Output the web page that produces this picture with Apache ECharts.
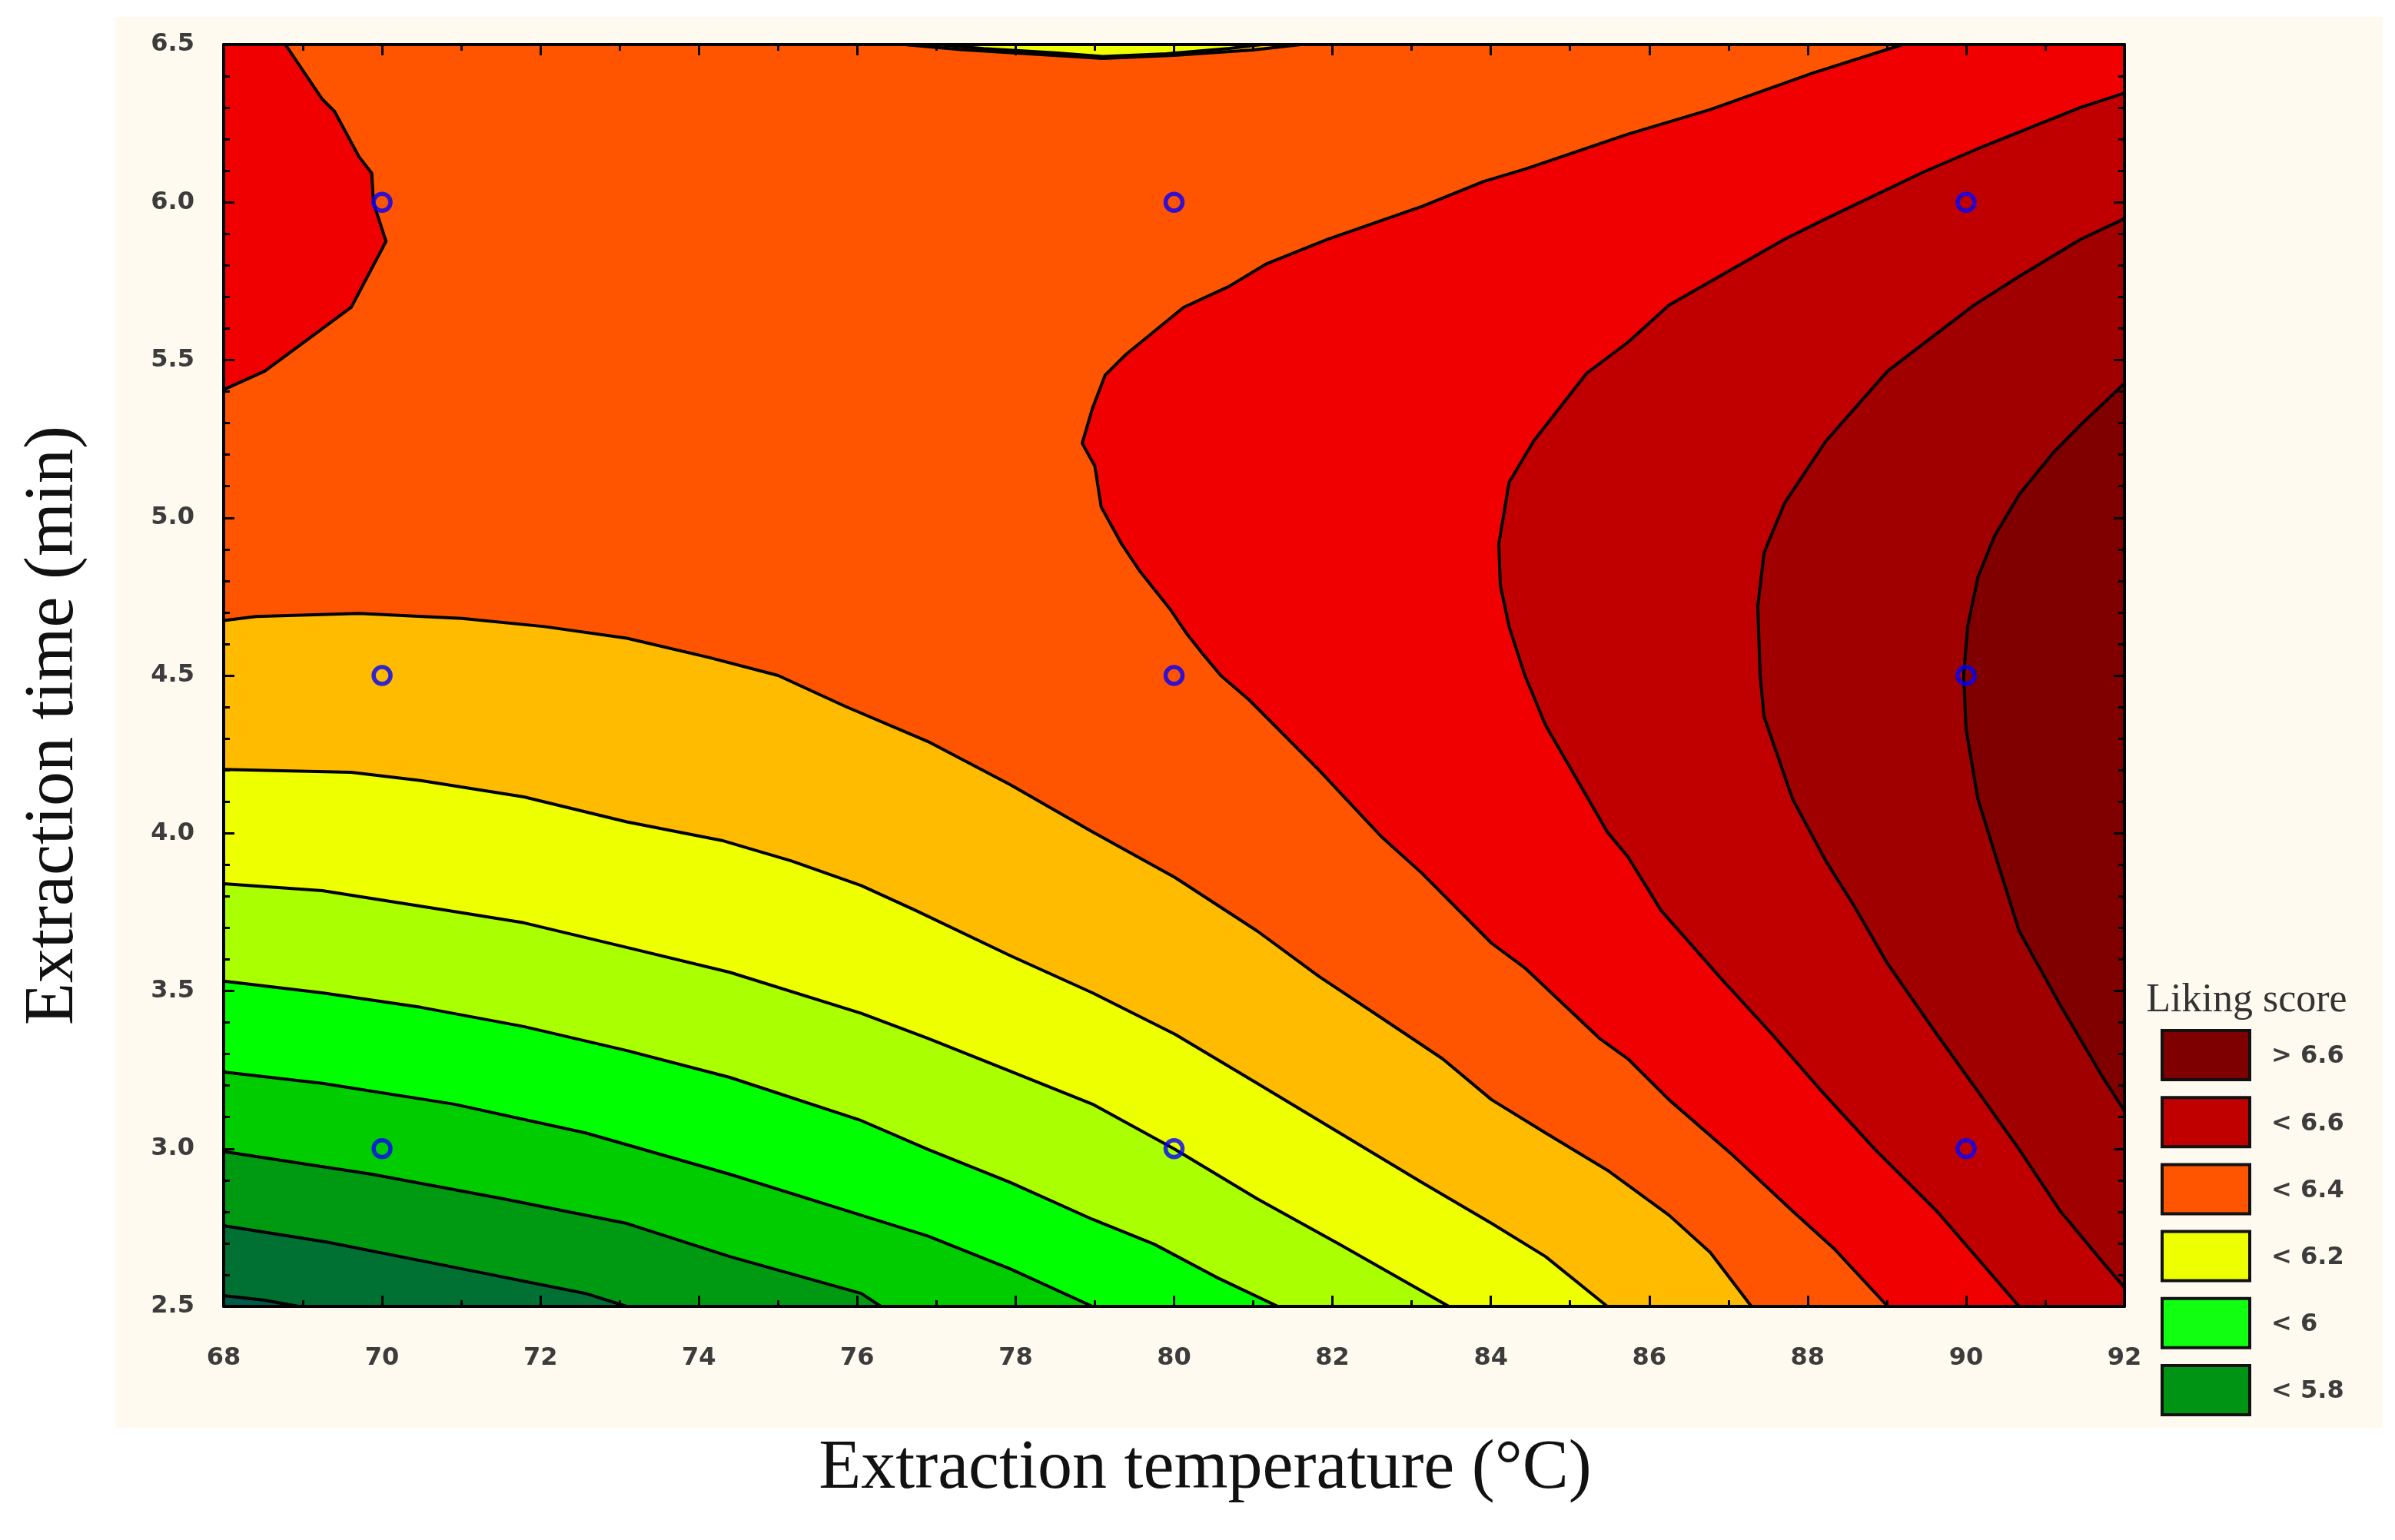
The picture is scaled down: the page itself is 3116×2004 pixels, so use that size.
<!DOCTYPE html>
<html>
<head>
<meta charset="utf-8">
<script src="https://cdn.jsdelivr.net/npm/echarts/dist/echarts.min.js"></script>
<style>
html, body { margin: 0; padding: 0; background: #fff; }
#chart { width: 3116px; height: 2004px; }
</style>
</head>
<body>
<div id="chart"></div>
<script>
// axis ranges
var tempMin = 68, tempMax = 92;
var timeMin = 2.5, timeMax = 6.5;

// design points
var designTemps = [70, 70, 70, 80, 80, 80, 90, 90, 90];
var designTimes = [3.0, 4.5, 6.0, 3.0, 4.5, 6.0, 3.0, 4.5, 6.0];

// contour lines, [temperature, time]
var c56 = [[68, 2.534], [68.5, 2.52], [68.95, 2.5]];
var c57 = [[68, 2.756], [69.3, 2.704], [71.01, 2.619], [72.57, 2.541], [73.09, 2.5]];
var c58 = [[68, 2.991], [69.87, 2.919], [71.53, 2.841], [73.09, 2.763], [74.39, 2.658], [76.05, 2.541], [76.3, 2.5]];
var c59 = [[68, 3.243], [69.245, 3.207], [70.91, 3.141], [72.57, 3.05], [74.39, 2.919], [76.05, 2.789],
  [76.89, 2.723], [77.93, 2.619], [78.97, 2.5]];
var c60 = [[68, 3.531], [69.245, 3.494], [70.49, 3.448], [71.79, 3.387], [73.09, 3.311], [74.39, 3.226],
  [76.05, 3.089], [76.89, 2.998], [77.93, 2.893], [78.97, 2.776], [79.75, 2.697], [80.53, 2.593], [81.31, 2.5]];
var c61 = [[68, 3.84], [69.245, 3.818], [70.75, 3.758], [71.79, 3.716], [73.09, 3.638], [74.39, 3.559],
  [76.05, 3.429], [76.89, 3.35], [77.93, 3.246], [78.97, 3.141], [80.01, 2.998], [81.05, 2.841],
  [82.09, 2.697], [83.47, 2.5]];
var c62 = [[68, 4.202], [69.61, 4.193], [70.49, 4.167], [71.79, 4.115], [73.09, 4.036], [74.29, 3.977],
  [75.17, 3.912], [76.05, 3.834], [76.74, 3.755], [77.93, 3.612], [78.97, 3.494], [80.01, 3.363],
  [81.05, 3.207], [82.09, 3.05], [83.13, 2.893], [84.01, 2.763], [84.69, 2.658], [85.47, 2.5]];
var c63 = [[68, 4.674], [68.41, 4.687], [69.71, 4.697], [71.01, 4.681], [72.05, 4.655], [73.09, 4.618],
  [74.13, 4.557], [75.0, 4.5], [75.85, 4.402], [76.89, 4.291], [77.93, 4.154], [78.97, 4.004],
  [80.01, 3.86], [81.05, 3.69], [81.83, 3.546], [82.61, 3.416], [83.39, 3.285], [84.01, 3.155],
  [84.69, 3.05], [85.47, 2.932], [86.25, 2.789], [86.77, 2.671], [87.29, 2.5]];
var c63top = [[76.6, 6.5], [77.3, 6.484], [78.2, 6.47], [79.1, 6.456], [80.0, 6.466], [81.0, 6.483], [81.6, 6.5]];
var c62top = [[77.0, 6.5], [77.6, 6.487], [78.5, 6.474], [79.1, 6.462], [79.9, 6.471], [80.7, 6.488], [81.1, 6.5]];
var c64left = [[68.78, 6.5], [69.245, 6.327], [69.4, 6.288], [69.71, 6.144], [69.87, 6.092], [69.89, 6.0],
  [70.05, 5.876], [69.61, 5.667], [69.19, 5.589], [68.52, 5.465], [68, 5.406]];
var c64right = [[89.2, 6.5], [88.07, 6.41], [86.77, 6.294], [85.73, 6.216], [84.43, 6.105], [83.91, 6.066],
  [83.13, 5.987], [81.94, 5.883], [81.16, 5.804], [80.69, 5.733], [80.12, 5.667], [79.39, 5.517],
  [79.13, 5.452], [78.97, 5.347], [78.84, 5.236], [79.0, 5.164], [79.08, 5.034], [79.34, 4.916],
  [79.57, 4.83], [79.96, 4.707], [80.17, 4.629], [80.38, 4.563], [80.59, 4.5], [80.95, 4.422],
  [81.83, 4.2], [82.61, 3.991], [83.13, 3.873], [84.01, 3.651], [84.43, 3.573], [85.37, 3.35],
  [85.73, 3.285], [86.25, 3.155], [87.03, 2.985], [87.81, 2.802], [88.33, 2.684], [89.01, 2.5]];
var c65 = [[92, 6.346], [91.45, 6.301], [90.15, 6.17], [89.48, 6.098], [88.23, 5.948], [87.71, 5.883],
  [86.25, 5.674], [85.73, 5.556], [85.21, 5.458], [84.54, 5.243], [84.23, 5.112], [84.1, 4.916],
  [84.12, 4.785], [84.23, 4.655], [84.43, 4.5], [84.69, 4.343], [85.47, 4.004], [85.73, 3.925],
  [86.15, 3.755], [86.93, 3.533], [87.55, 3.363], [88.18, 3.181], [88.85, 2.998], [89.63, 2.802], [90.67, 2.5]];
var c66 = [[92, 5.948], [91.45, 5.883], [90.67, 5.765], [90.1, 5.674], [89.01, 5.465], [88.23, 5.243],
  [87.71, 5.047], [87.45, 4.89], [87.37, 4.72], [87.4, 4.5], [87.45, 4.369], [87.81, 4.108],
  [88.23, 3.912], [88.59, 3.768], [89.01, 3.586], [89.63, 3.363], [90.15, 3.181], [90.67, 2.998],
  [91.19, 2.802], [91.71, 2.645], [92, 2.56]];
var c67 = [[92, 5.426], [91.45, 5.295], [91.09, 5.203], [90.67, 5.073], [90.36, 4.942], [90.15, 4.812],
  [90.02, 4.655], [89.97, 4.5], [90.0, 4.33], [90.15, 4.108], [90.47, 3.85], [90.67, 3.69],
  [91.19, 3.455], [91.71, 3.233], [92, 3.12]];

// legend
var legendLabels = ['> 6.6', '< 6.6', '< 6.4', '< 6.2', '< 6', '< 5.8'];
var legendColors = ['#7e0000', '#c00000', '#ff5500', '#eeff00', '#11ff11', '#009415'];

// band colours, high to low
var col = {
  b67: '#800000', b66: '#a00000', b65: '#c00000', b64: '#f00000', b63: '#ff5500',
  b62: '#ffbb00', b61: '#eeff00', b60: '#aaff00', b59: '#00ff00', b58: '#00cc00',
  b57: '#009912', b56: '#007033', b55: '#005c4a'
};

function band(line, corners, color) {
  return { points: line.concat(corners), color: color };
}
var BL = [tempMin, timeMin], BR = [tempMax, timeMin], TR = [tempMax, timeMax], TL = [tempMin, timeMax];

var regions = [
  band(c64right, [BR, TR], col.b64),
  band(c64left, [TL], col.b64),
  band(c65, [BR], col.b65),
  band(c66, [], col.b66),
  band(c67, [], col.b67),
  band(c63, [BL], col.b62),
  band(c62, [BL], col.b61),
  band(c61, [BL], col.b60),
  band(c60, [BL], col.b59),
  band(c59, [BL], col.b58),
  band(c58, [BL], col.b57),
  band(c57, [BL], col.b56),
  band(c56, [BL], col.b55),
  band(c63top, [], col.b62),
  band(c62top, [], col.b61)
];
var contourLines = [c56, c57, c58, c59, c60, c61, c62, c63, c63top, c62top, c64left, c64right, c65, c66, c67];

var chart = echarts.init(document.getElementById('chart'));

var tickFont = { fontFamily: 'DejaVu Sans', fontWeight: 'bold', fontSize: 32, color: '#3c3c3c' };

function makeX(pos, labels) {
  return {
    type: 'value', min: tempMin, max: tempMax, interval: 2, position: pos, z: 10,
    axisLine: { show: true, onZero: false, lineStyle: { color: '#000', width: 4 } },
    axisTick: { show: true, inside: true, length: 14, lineStyle: { color: '#000', width: 3 } },
    minorTick: { show: true, splitNumber: 2, length: 8, lineStyle: { color: '#000', width: 3 } },
    axisLabel: Object.assign({ show: labels, margin: 52 }, tickFont),
    splitLine: { show: false }
  };
}
function makeY(pos, labels) {
  return {
    type: 'value', min: timeMin, max: timeMax, interval: 0.5, position: pos, z: 10,
    axisLine: { show: true, onZero: false, lineStyle: { color: '#000', width: 4 } },
    axisTick: { show: true, inside: true, length: 14, lineStyle: { color: '#000', width: 3 } },
    minorTick: { show: true, splitNumber: 5, length: 8, lineStyle: { color: '#000', width: 3 } },
    axisLabel: Object.assign({ show: labels, margin: 38, formatter: function (v) { return v.toFixed(1); } }, tickFont),
    splitLine: { show: false }
  };
}

var legendGraphics = [];
legendLabels.forEach(function (lab, i) {
  var y = 1341 + i * 87.2;
  legendGraphics.push({
    type: 'rect', shape: { x: 2813, y: y, width: 114, height: 64 },
    style: { fill: legendColors[i], stroke: '#111', lineWidth: 4 }
  });
  legendGraphics.push({
    type: 'text', x: 2955, y: y + 34,
    style: { text: lab, fill: '#3c3c3c', font: 'bold 32px "DejaVu Sans"', align: 'left', verticalAlign: 'middle',
      textAlign: 'left', textVerticalAlign: 'middle' }
  });
});

var option = {
  animation: false,
  backgroundColor: '#ffffff',
  grid: { left: 291, right: 352, top: 58, bottom: 304, show: true, backgroundColor: col.b63, borderWidth: 0 },
  xAxis: [makeX('bottom', true), makeX('top', false)],
  yAxis: [makeY('left', true), makeY('right', false)],
  graphic: [
    { type: 'rect', z: -10, silent: true, shape: { x: 150, y: 22, width: 2950, height: 1836 },
      style: { fill: '#fffaf0' } },
    { type: 'text', x: 1568, y: 1912,
      style: { text: 'Extraction temperature (°C)', fill: '#111', font: '90px "Liberation Serif"',
        align: 'center', verticalAlign: 'middle', textAlign: 'center', textVerticalAlign: 'middle' } },
    { type: 'text', x: 70, y: 944, rotation: Math.PI / 2,
      style: { text: 'Extraction time (min)', fill: '#111', font: '90px "Liberation Serif"',
        align: 'center', verticalAlign: 'middle', textAlign: 'center', textVerticalAlign: 'middle' } },
    { type: 'text', x: 2923, y: 1302,
      style: { text: 'Liking score', fill: '#333', font: '52px "Liberation Serif"',
        align: 'center', verticalAlign: 'middle', textAlign: 'center', textVerticalAlign: 'middle' } }
  ].concat(legendGraphics),
  series: [
    {
      type: 'custom', z: 1, silent: true,
      data: regions.map(function (r) { return r.points[0]; }),
      renderItem: function (params, api) {
        var r = regions[params.dataIndex];
        return {
          type: 'polygon',
          shape: { points: r.points.map(function (p) { return api.coord(p); }) },
          style: { fill: r.color, stroke: r.color, lineWidth: 1 }
        };
      }
    },
    {
      type: 'custom', z: 2, silent: true,
      data: contourLines.map(function (l) { return l[0]; }),
      renderItem: function (params, api) {
        var l = contourLines[params.dataIndex];
        return {
          type: 'polyline',
          shape: { points: l.map(function (p) { return api.coord(p); }) },
          style: { stroke: '#000', lineWidth: 4, fill: null, lineJoin: 'round' }
        };
      }
    },
    {
      type: 'scatter', z: 3, silent: true,
      symbol: 'circle', symbolSize: 22,
      itemStyle: { color: 'rgba(0,0,0,0)', borderColor: '#0000ff', borderWidth: 5.5 },
      data: designTemps.map(function (t, i) { return [t, designTimes[i]]; })
    }
  ]
};
chart.setOption(option);
</script>
</body>
</html>
